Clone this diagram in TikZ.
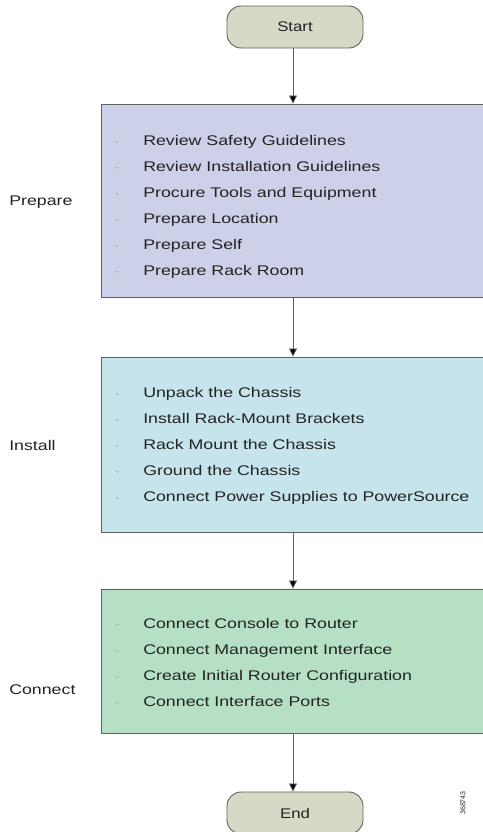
\documentclass[tikz,border=0pt]{standalone}
\usepackage{fontspec}
\setmainfont{Liberation Sans}
\usetikzlibrary{arrows.meta}
\definecolor{pillc}{RGB}{216,216,198}
\definecolor{prepc}{RGB}{204,208,232}
\definecolor{instc}{RGB}{198,228,236}
\definecolor{connc}{RGB}{182,224,198}
\definecolor{edgec}{RGB}{95,95,95}
\definecolor{txtc}{RGB}{35,35,35}
\tikzset{
  pill/.style={draw=edgec, line width=0.9pt, fill=pillc, rounded corners=14pt,
    minimum width=136pt, minimum height=42pt, inner sep=0pt, text=txtc,
    font=\fontsize{14}{16}\selectfont},
  stage/.style={draw=edgec, line width=0.9pt, minimum width=383pt, inner sep=0pt},
  item/.style={anchor=base west, inner sep=0pt, text=txtc, font=\fontsize{14}{16}\selectfont,
    xscale=1.27, transform shape},
  dashmark/.style={anchor=base, inner sep=0pt, text=gray!70, font=\fontsize{12}{14}\selectfont},
  side/.style={anchor=west, inner sep=0pt, text=txtc, font=\fontsize{14}{16}\selectfont,
    xscale=1.27, transform shape},
  arr/.style={draw=edgec, line width=0.8pt, -{Triangle[length=8pt,width=8pt,fill=black]}}
}
\begin{document}
\begin{tikzpicture}[x=1pt,y=-1pt]
\useasboundingbox (0,0) rectangle (482,832);
\fill[white] (0,0) rectangle (482,832);
% terminals
\node[pill] (start) at (295,27) {\scalebox{1.2}[1]{Start}};
\node[pill] (end) at (295,813) {\scalebox{1.2}[1]{End}};
% stage boxes
\node[stage, fill=prepc, minimum height=193pt] (prep) at (292.5,200.5) {};
\node[stage, fill=instc, minimum height=175pt] (inst) at (292.5,444.5) {};
\node[stage, fill=connc, minimum height=144pt] (conn) at (292.5,661) {};
% side labels
\node[side] (lprep) at (9,202) {Prepare};
\node[side] (linst) at (9,445) {Install};
\node[side] (lconn) at (9,690) {Connect};
% prepare items
\foreach \t [count=\i] in {Review Safety Guidelines, Review Installation Guidelines, Procure Tools and Equipment, Prepare Location, Prepare Self, Prepare Rack Room}{
  \node[dashmark] (pd\i) at (117,145+26*\i-26) {-};
  \node[item] (pi\i) at (143,145+26*\i-26) {\t};
}
% install items
\foreach \t [count=\i] in {Unpack the Chassis, Install Rack-Mount Brackets, Rack Mount the Chassis, Ground the Chassis, Connect Power Supplies to PowerSource}{
  \node[dashmark] (id\i) at (117,397+26*\i-26) {-};
  \node[item] (ii\i) at (143,397+26*\i-26) {\t};
}
% connect items
\foreach \t [count=\i] in {Connect Console to Router, Connect Management Interface, Create Initial Router Configuration, Connect Interface Ports}{
  \node[dashmark] (cd\i) at (117,628+26.3*\i-26.3) {-};
  \node[item] (ci\i) at (143,628+26.3*\i-26.3) {\t};
}
% connectors
\draw[arr] (start.south -| 293,0) -- (293,0 |- prep.north);
\draw[arr] (prep.south -| 293,0) -- (293,0 |- inst.north);
\draw[arr] (inst.south -| 293,0) -- (293,0 |- conn.north);
\draw[arr] (conn.south -| 293,0) -- (293,0 |- end.north);
% figure number
\node[rotate=90, inner sep=0pt, text=txtc, font=\fontsize{7}{8}\selectfont] (fig) at (463,803) {368743};
\end{tikzpicture}
\end{document}
